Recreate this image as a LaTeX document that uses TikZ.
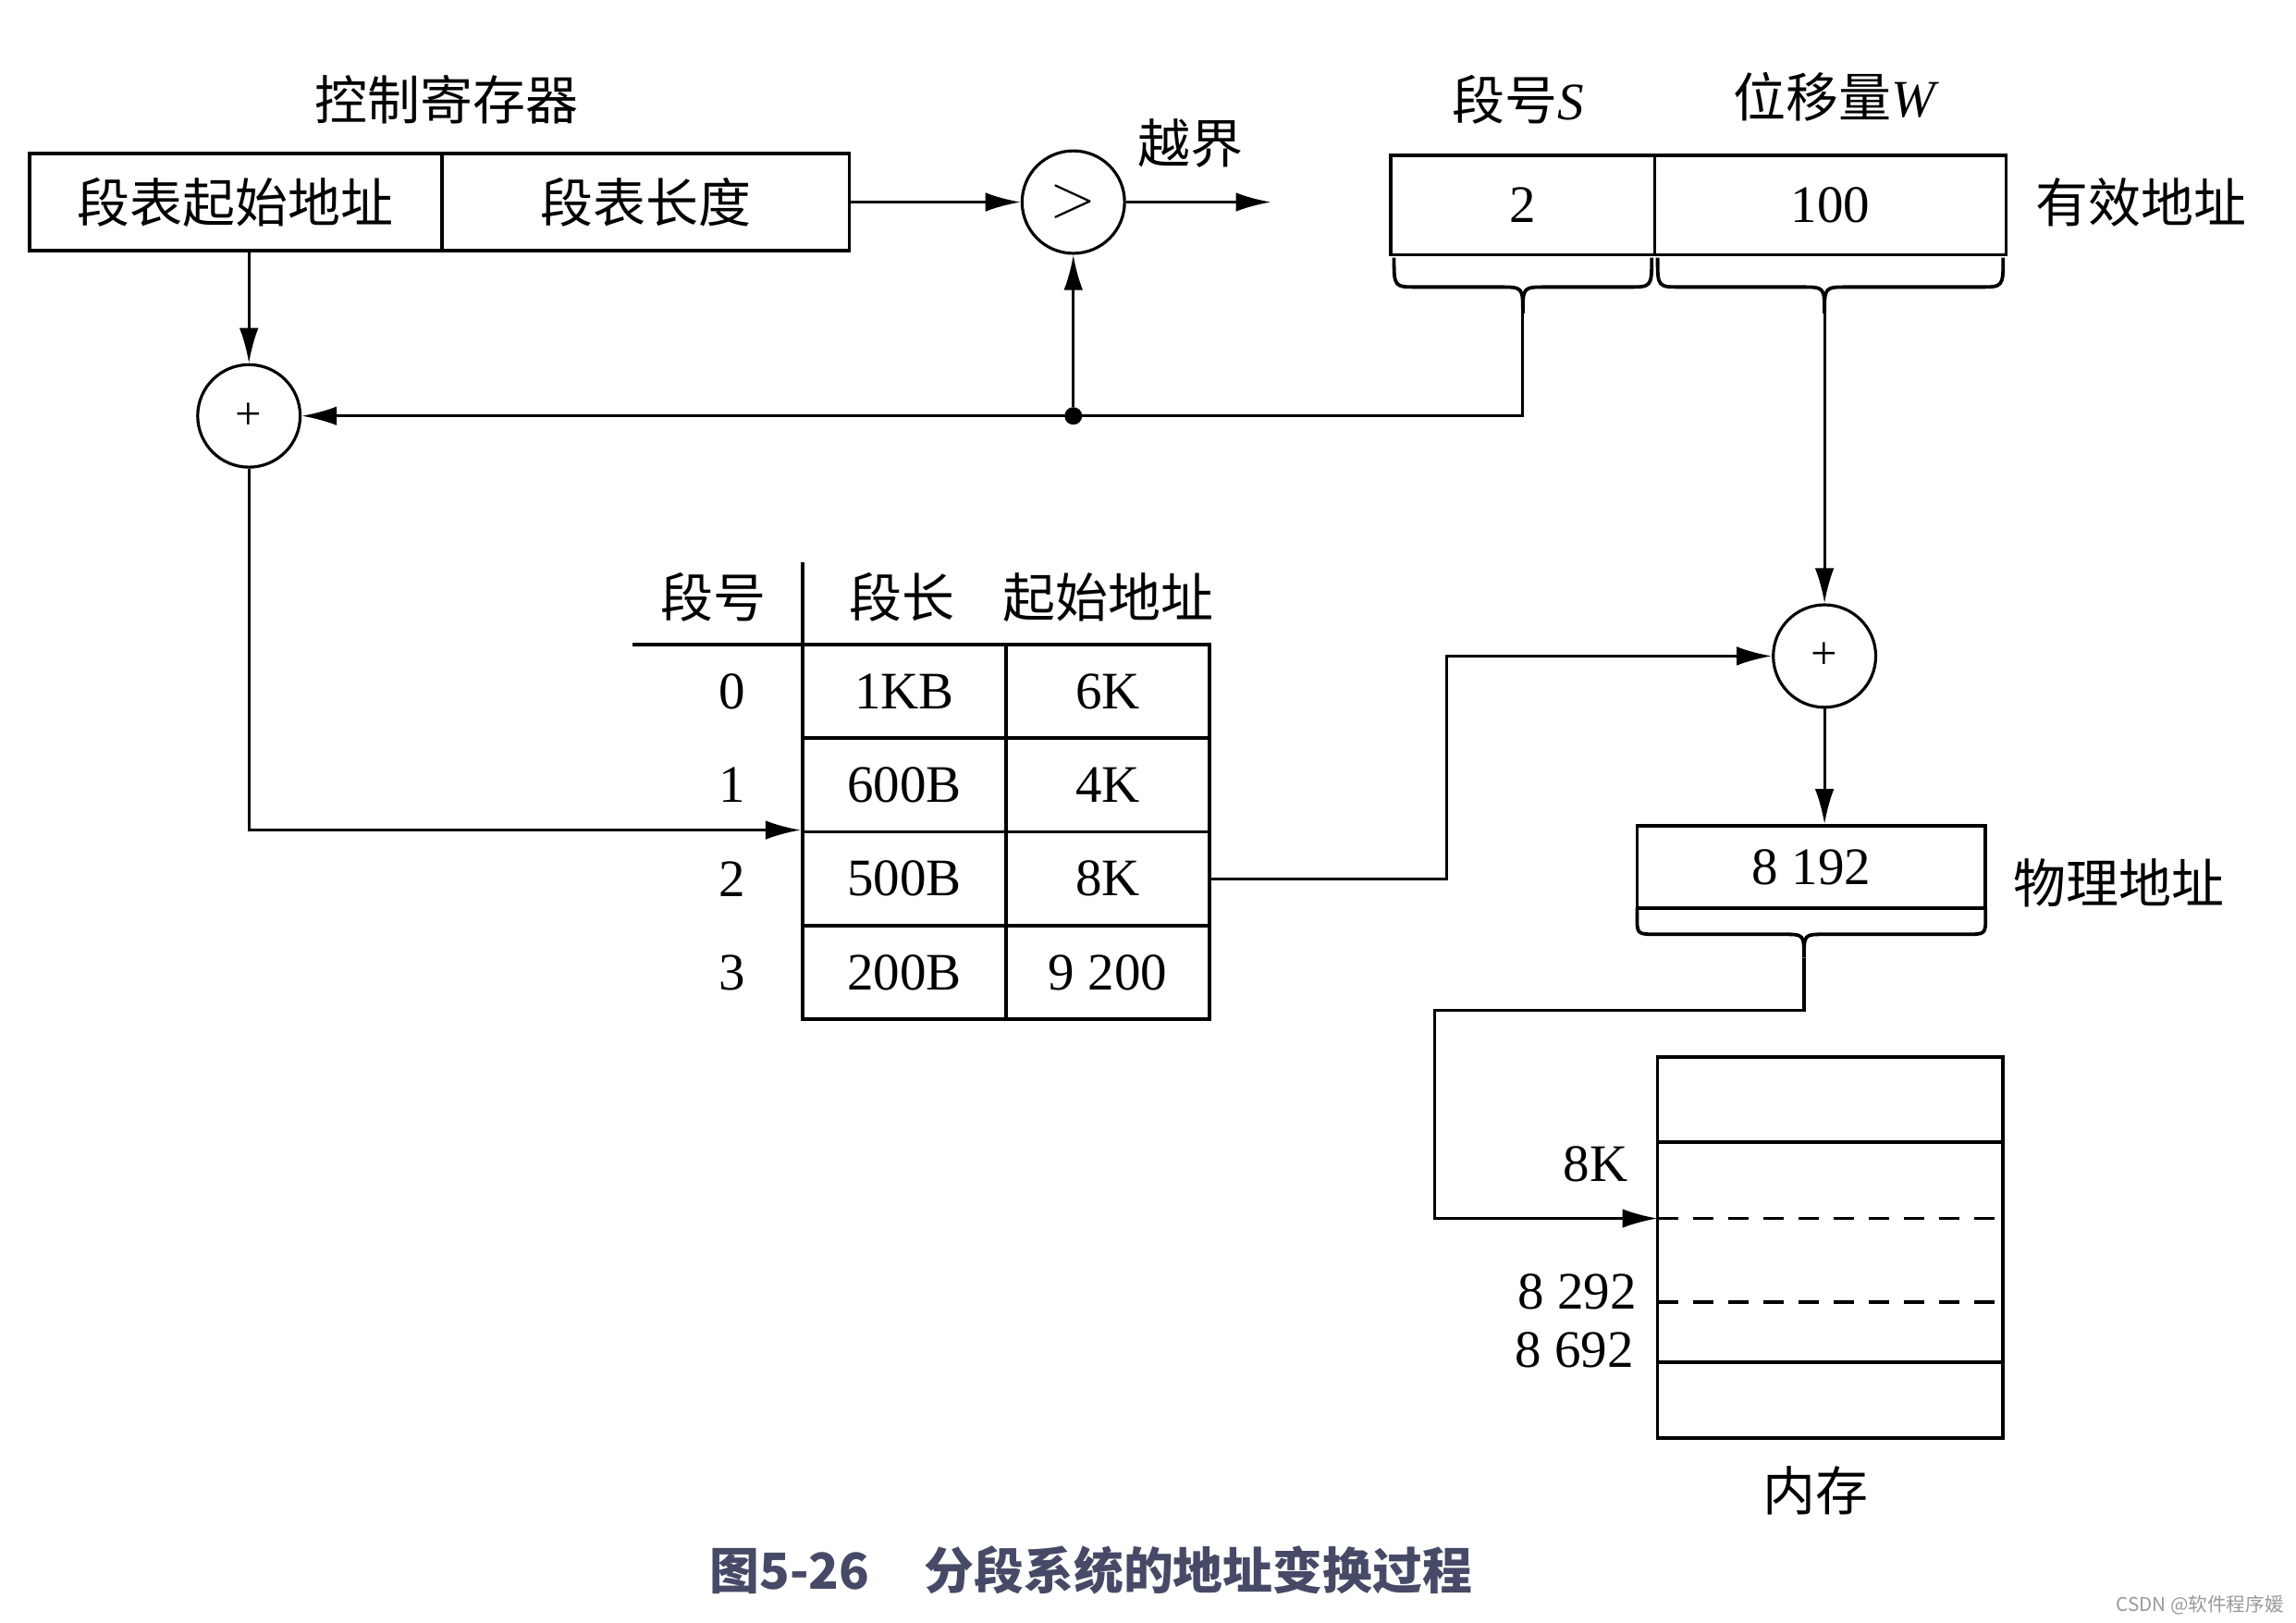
\documentclass[tikz,border=0pt]{standalone}
\usepackage{fontspec}
\setmainfont{Liberation Serif}
\newfontfamily\cjk{Noto Sans CJK SC}
\usetikzlibrary{arrows.meta}
\definecolor{capcol}{HTML}{474A66}
\tikzset{
  cell/.style={draw, line width=1.2pt, inner sep=0pt, font=\fontsize{18}{20}\selectfont},
  conn/.style={line width=1pt},
  arr/.style={conn, -{Latex[length=12pt,width=6.5pt]}},
  sumc/.style={circle, draw, line width=1pt, minimum size=35pt, inner sep=0pt},
  lbl/.style={inner sep=0pt, font=\cjk\fontsize{18}{20}\selectfont},
  num/.style={inner sep=0pt, font=\fontsize{18}{20}\selectfont},
  bracel/.style={line width=1.2pt},
  dotn/.style={circle, fill, minimum size=6pt, inner sep=0pt},
}
\begin{document}
\begin{tikzpicture}[x=0.5pt,y=-0.5pt]
\useasboundingbox (0,0) rectangle (1568,1108);

% control register
\node[lbl] (ctlbl) at (305,68) {控制寄存器};
\node[cell, minimum width=141pt, minimum height=33pt, font=\cjk\fontsize{18}{20}\selectfont] (rs) at (161,138) {段表起始地址};
\node[cell, minimum width=139pt, minimum height=33pt, font=\cjk\fontsize{18}{20}\selectfont] (rl) at (441,138) {段表长度};

% comparator
\node[sumc, font=\fontsize{20}{22}\selectfont] (cmp) at (733,138) {$>$};
\node[lbl] (ovl) at (813,98) {越界};
\coordinate (ovf) at (868,138);
\draw[arr] (rl.east) -- (cmp.west);
\draw[arr] (cmp.east) -- (ovf);

% effective address
\node[lbl] (slbl) at (1037,68) {段号\textit{\fontspec{Liberation Serif}S}};
\node[lbl] (wlbl) at (1254,66) {位移量\textit{\fontspec{Liberation Serif}W}};
\node[cell, minimum width=90pt, minimum height=34pt] (es) at (1040,140) {2};
\node[cell, minimum width=120pt, minimum height=34pt] (ew) at (1250,140) {100};
\node[lbl] (ealbl) at (1462,138) {有效地址};

% braces under effective address
\draw[bracel] (952,176) .. controls (952,196) .. (968,196) -- (1024,196)
  .. controls (1040,196) .. (1040,214) .. controls (1040,196) .. (1056,196)
  -- (1112,196) .. controls (1128,196) .. (1128,176);
\draw[bracel] (1132,176) .. controls (1132,196) .. (1148,196) -- (1230,196)
  .. controls (1246,196) .. (1246,214) .. controls (1246,196) .. (1262,196)
  -- (1352,196) .. controls (1368,196) .. (1368,176);
\coordinate (bS) at (1040,214);
\coordinate (bW) at (1246,214);

% adder 1
\node[sumc, font=\fontsize{16}{18}\selectfont] (c1) at (170,284) {+};
\draw[arr] (rs.south -| c1) -- (c1.north);
\node[dotn] (dot) at (733,284) {};
\draw[arr] (bS) |- (c1.east);
\draw[arr] (dot) -- (cmp.south);

% segment table
\node[lbl] (h1) at (487,408) {段号};
\node[lbl] (h2) at (616,408) {段长};
\node[lbl] (h3) at (757,408) {起始地址};
\draw[conn, line width=1.2pt] (548,384) -- (548,440);
\draw[conn, line width=1.2pt] (432,440) -- (548,440);
\node[cell, minimum width=69.5pt, minimum height=32pt] (t00) at (617.5,472) {1KB};
\node[cell, minimum width=69.5pt, minimum height=32pt] (t01) at (756.5,472) {6K};
\node[cell, minimum width=69.5pt, minimum height=32pt] (t10) at (617.5,536) {600B};
\node[cell, minimum width=69.5pt, minimum height=32pt] (t11) at (756.5,536) {4K};
\node[cell, minimum width=69.5pt, minimum height=32pt] (t20) at (617.5,600) {500B};
\node[cell, minimum width=69.5pt, minimum height=32pt] (t21) at (756.5,600) {8K};
\node[cell, minimum width=69.5pt, minimum height=32pt] (t30) at (617.5,664) {200B};
\node[cell, minimum width=69.5pt, minimum height=32pt] (t31) at (756.5,664) {9 200};
\node[num] (r0) at (500,472) {0};
\node[num] (r1) at (500,536) {1};
\node[num] (r2) at (500,600) {2};
\node[num] (r3) at (500,664) {3};
\draw[arr] (c1.south) |- (t20.north west);

% adder 2
\node[sumc, font=\fontsize{16}{18}\selectfont] (c2) at (1246,448) {+};
\draw[arr] (bW) -- (c2.north);
\draw[arr] (t21.east) -- (988,600) |- (c2.west);

% physical address
\node[cell, minimum width=119pt, minimum height=28pt] (pa) at (1237,592) {8 192};
\node[lbl] (palbl) at (1447,603) {物理地址};
\draw[arr] (c2.south) -- (c2.south |- pa.north);
\draw[bracel] (1118,620) -- (1118,626) .. controls (1118,638) .. (1132,638) -- (1218,638)
  .. controls (1232,638) .. (1232,654) .. controls (1232,638) .. (1246,638)
  -- (1342,638) .. controls (1356,638) .. (1356,626) -- (1356,620);
\coordinate (pt) at (1232,654);

% memory
\node[cell, minimum width=118pt, minimum height=130pt] (mem) at (1250,852) {};
\draw[line width=1.2pt] (1132,780) -- (1368,780);
\draw[line width=1.2pt, dash pattern=on 7pt off 5pt] (1132,832) -- (1368,832);
\draw[line width=1.2pt, dash pattern=on 7pt off 5pt] (1132,889) -- (1368,889);
\draw[line width=1.2pt] (1132,930) -- (1368,930);
\coordinate (m8k) at (1132,832);
\draw[arr] (pt) -- (1232,690) -- (980,690) |- (m8k);
\node[num, anchor=east] (l8k) at (1112,795) {8K};
\node[num, anchor=east] (l8292) at (1118,882) {8 292};
\node[num, anchor=east] (l8692) at (1116,922) {8 692};
\node[lbl] (memlbl) at (1240,1018) {内存};

% caption
\node[inner sep=0pt, text=capcol, font=\cjk\bfseries\fontsize{17}{19}\selectfont] (cap) at (745,1072) {图5-26\hspace{1.1em}分段系统的地址变换过程};
\node[inner sep=0pt, anchor=east, text=gray!80, font=\cjk\fontsize{6.5}{7}\selectfont] (wm) at (1560,1096) {CSDN @软件程序媛};
\end{tikzpicture}
\end{document}
